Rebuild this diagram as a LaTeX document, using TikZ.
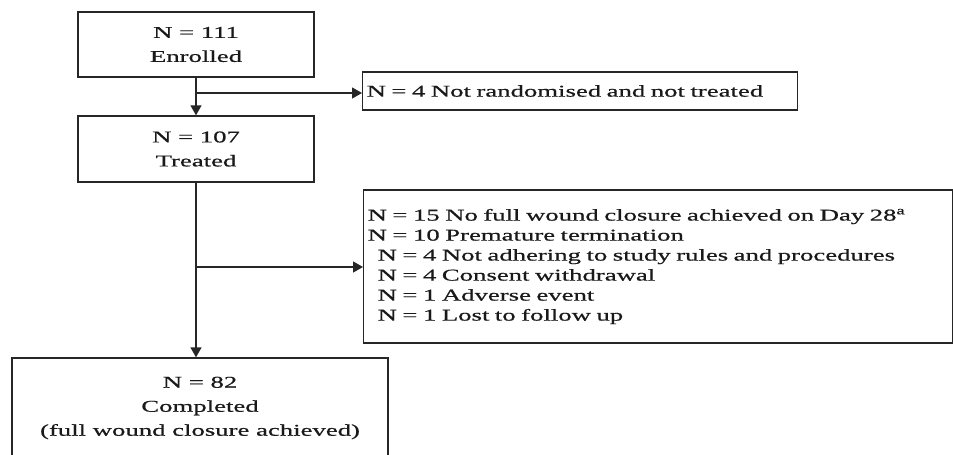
\documentclass[tikz,border=0pt]{standalone}
\usepackage{fontspec}
\setmainfont{Liberation Serif}[FakeStretch=1.62,FakeBold=0.6]
\usetikzlibrary{arrows.meta}

\begin{document}
\begin{tikzpicture}[x=1pt,y=-1pt,
  box/.style={draw=black!85, line width=1.3pt, fill=white, inner sep=0pt, align=center,
    text=black!90, font=\fontsize{16.5}{24}\selectfont},
  flow/.style={draw=black!85, line width=1.3pt, -{Triangle[length=10pt,width=11pt]}}]
  \useasboundingbox (0,0) rectangle (953,455);
  % main column
  \node[box, minimum width=236pt, minimum height=65pt] (E) at (196,44.5) {N = 111\\Enrolled};
  \node[box, minimum width=236pt, minimum height=66pt] (T) at (196,149) {N = 107\\Treated};
  \node[box, minimum width=376pt, minimum height=100pt] (C) at (200,408)
    {N = 82\\Completed\\(full wound closure achieved)};
  % side boxes
  \node[box, anchor=west, align=left, text width=427pt, inner xsep=4pt, minimum height=38pt] (R) at (362,91)
    {N = 4 Not randomised and not treated};
  \node[box, anchor=west, align=left, text width=581pt, inner xsep=4pt, minimum height=153pt,
    font=\fontsize{16.5}{20}\selectfont] (X) at (363,266.5)
    {N = 15 No full wound closure achieved on Day 28\textsuperscript{a}\\
     N = 10 Premature termination\\
     \hspace*{10pt}N = 4 Not adhering to study rules and procedures\\
     \hspace*{10pt}N = 4 Consent withdrawal\\
     \hspace*{10pt}N = 1 Adverse event\\
     \hspace*{10pt}N = 1 Lost to follow up};
  % connectors
  \coordinate (B1) at (196,93); \coordinate (B2) at (196,267);
  \draw[flow] (E) -- (T);
  \draw[flow] (B1) -- (B1 -| R.west);
  \draw[flow] (T) -- (T.south |- C.north);
  \draw[flow] (B2) -- (B2 -| X.west);
\end{tikzpicture}
\end{document}
